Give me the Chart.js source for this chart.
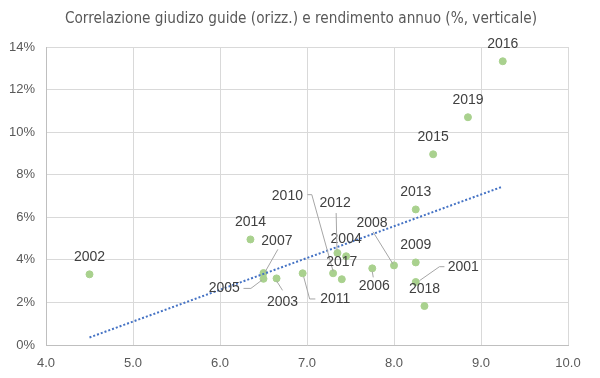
<!DOCTYPE html>
<html>
<head>
<meta charset="utf-8">
<script src="https://cdn.jsdelivr.net/npm/chart.js@4"></script>
<style>
  html, body { margin: 0; padding: 0; background: #fff; }
  #wrap { width: 600px; height: 378px; }
</style>
</head>
<body>
<div id="wrap"><canvas id="chartCorr" width="600" height="378"></canvas></div>
<script>
const chartTitle = 'Correlazione giudizo guide (orizz.) e rendimento annuo (%, verticale)';
const years = ['2001','2002','2003','2004','2005','2006','2007','2008','2009','2010',
               '2011','2012','2013','2014','2015','2016','2017','2018','2019'];
const guideScore = [8.25, 4.5, 6.65, 7.45, 6.5, 7.75, 6.5, 8.0, 8.25, 7.3,
                    6.95, 7.35, 8.25, 6.35, 8.45, 9.25, 7.4, 8.35, 8.85];
const annualReturn = [2.96, 3.32, 3.13, 4.17, 3.11, 3.60, 3.38, 3.74, 3.88, 3.37,
                      3.37, 4.32, 6.37, 4.96, 8.96, 13.33, 3.09, 1.83, 10.70];
const xTicks = [4, 5, 6, 7, 8, 9, 10];
const yTicks = [0, 2, 4, 6, 8, 10, 12, 14];

// label placement (pixel offset of text centre from the point) and leader lines
const labelOffset = {
  '2001': [47.5, -14.7], '2003': [6, 23.4], '2005': [-39.3, 9.6], '2006': [2, 17.4],
  '2007': [13.4, -32.3], '2008': [-22, -42.6], '2010': [-45.7, -77.6], '2011': [32.7, 25.7],
  '2012': [-2.3, -49.7]
};
const leaders = {
  '2001': [[3.7, -1.3], [23.7, -15.3], [28.7, -15.3]],
  '2003': [[0, 2.5], [6, 12]],
  '2005': [[-1.6, 1.3], [-12.6, 9.6], [-20, 9.6]],
  '2006': [[0, 3], [1, 9]],
  '2007': [[14.4, -23.7], [1.7, -1.3]],
  '2008': [[-21, -33.6], [-1, -1.3]],
  '2010': [[-25.7, -78.6], [-21.3, -78.6], [0, -2]],
  '2011': [[1, 3.4], [7, 25.7], [12.7, 25.7]],
  '2012': [[-1.3, -40], [-0.5, -3]]
};

const points = guideScore.map((v, i) => ({x: v, y: annualReturn[i]}));

// linear trendline (least squares) over the data range
const n = points.length;
const mx = guideScore.reduce((a, b) => a + b, 0) / n;
const my = annualReturn.reduce((a, b) => a + b, 0) / n;
let sxy = 0, sxx = 0;
points.forEach(p => { sxy += (p.x - mx) * (p.y - my); sxx += (p.x - mx) * (p.x - mx); });
const slope = sxy / sxx;
const icpt = my - slope * mx;
const xMin = Math.min(...guideScore), xMax = Math.max(...guideScore);
const trend = [{x: xMin, y: icpt + slope * xMin}, {x: xMax, y: icpt + slope * xMax}];

const yearLabels = {
  id: 'yearLabels',
  afterDatasetsDraw(chart) {
    const ctx = chart.ctx;
    const meta = chart.getDatasetMeta(1);
    ctx.save();
    meta.data.forEach((el, i) => {
      const yr = years[i];
      const lines = leaders[yr];
      if (lines) {
        ctx.beginPath();
        ctx.strokeStyle = '#a6a6a6';
        ctx.lineWidth = 1;
        lines.forEach((p, k) => {
          const px = el.x + p[0], py = el.y + p[1];
          if (k === 0) ctx.moveTo(px, py); else ctx.lineTo(px, py);
        });
        ctx.stroke();
      }
      const off = labelOffset[yr] || [0, -17];
      ctx.fillStyle = '#404040';
      ctx.font = '14px "Liberation Sans", Arial, sans-serif';
      ctx.textAlign = 'center';
      ctx.textBaseline = 'middle';
      ctx.fillText(yr, el.x + off[0], el.y + off[1]);
    });
    ctx.restore();
  }
};

// title centred on the whole canvas (layout padding would shift the built-in one)
const topTitle = {
  id: 'topTitle',
  afterDraw(chart) {
    const ctx = chart.ctx;
    ctx.save();
    ctx.fillStyle = '#595959';
    ctx.font = '15.2px "Liberation Sans Narrow", "DejaVu Sans Condensed", sans-serif';
    ctx.textAlign = 'center';
    ctx.textBaseline = 'middle';
    ctx.fillText(chartTitle, chart.width / 2 + 1, 19);
    ctx.restore();
  }
};

const ctxCorr = document.getElementById('chartCorr');

new Chart(ctxCorr, {
  type: 'scatter',
  data: {
    datasets: [{
      label: 'Tendenza',
      type: 'line',
      data: trend,
      borderColor: '#4472c4',
      borderWidth: 2,
      borderDash: [2, 2],
      pointRadius: 0,
      fill: false,
      order: 0
    },
    {
      label: 'Anni',
      data: points,
      backgroundColor: '#a9d18e',
      borderColor: '#a9d18e',
      pointRadius: 3.5,
      order: 1
    }]
  },
  options: {
    responsive: false,
    animation: false,
    layout: { padding: { left: 0, right: 32, top: 47, bottom: 0 } },
    scales: {
      x: {
        type: 'linear',
        min: 4, max: 10,
        afterBuildTicks: s => { s.ticks = xTicks.map(v => ({value: v})); },
        afterFit: s => { s.height = 33; },
        grid: { color: '#d9d9d9', drawTicks: false },
        border: { color: '#bfbfbf' },
        ticks: {
          padding: 11,
          color: '#595959',
          font: { size: 13, family: '"Liberation Sans", Arial, sans-serif' },
          callback: v => Number(v).toFixed(1)
        }
      },
      y: {
        min: 0, max: 14,
        afterBuildTicks: s => { s.ticks = yTicks.map(v => ({value: v})); },
        afterFit: s => { s.width = 46; },
        grid: { color: '#d9d9d9', drawTicks: false },
        border: { color: '#bfbfbf' },
        ticks: {
          padding: 11,
          color: '#595959',
          font: { size: 13, family: '"Liberation Sans", Arial, sans-serif' },
          callback: v => v + '%'
        }
      }
    },
    plugins: {
      legend: { display: false },
      tooltip: { enabled: false },
      title: { display: false }
    }
  },
  plugins: [yearLabels, topTitle]
});
</script>
</body>
</html>
